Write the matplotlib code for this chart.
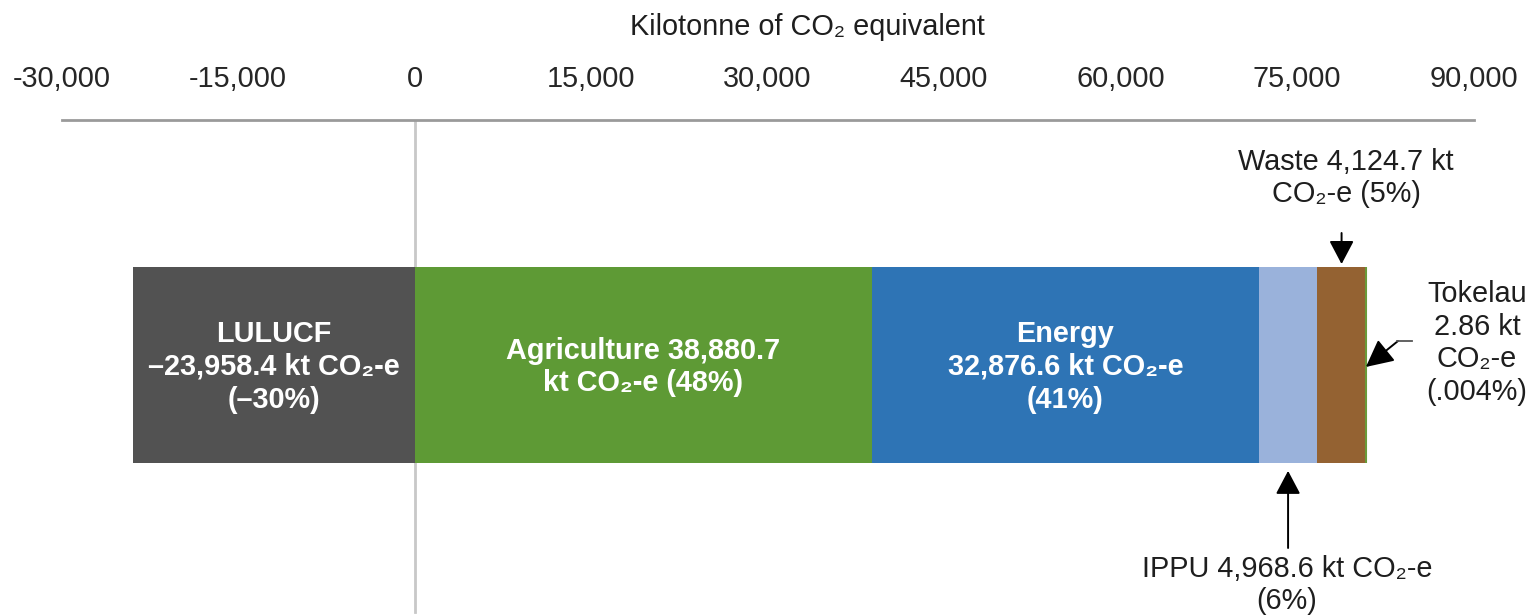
import matplotlib
matplotlib.use("Agg")
import matplotlib.pyplot as plt
from matplotlib.ticker import FuncFormatter

# sectors stacked left to right, kt CO2-e
sectors = ["LULUCF", "Agriculture", "Energy", "IPPU", "Waste", "Tokelau"]
values = [-23958.4, 38880.7, 32876.6, 4968.6, 4124.7, 2.86]
colors = ["#525252", "#5e9a35", "#2e74b5", "#9ab2db", "#946232", "#6a9a3a"]
ticks = [-30000, -15000, 0, 15000, 30000, 45000, 60000, 75000, 90000]

inside_labels = {
    "LULUCF": "LULUCF\n\u201323,958.4 kt CO\u2082-e\n(\u201330%)",
    "Agriculture": "Agriculture 38,880.7\nkt CO\u2082-e (48%)",
    "Energy": "Energy\n32,876.6 kt CO\u2082-e\n(41%)",
}
waste_label = "Waste 4,124.7 kt\nCO\u2082-e (5%)"
ippu_label = "IPPU 4,968.6 kt CO\u2082-e\n(6%)"
tokelau_label = "Tokelau\n2.86 kt\nCO\u2082-e\n(.004%)"

W, H = 1531, 615
FONT = ["Liberation Sans", "DejaVu Sans"]
FS = 20.8
LS = 1.22
TXT = "#1e1e1e"

plt.rcParams["font.family"] = FONT


def px(x, y):
    # top-left pixel -> figure fraction
    return (x / W, 1 - y / H)


def fy(y):
    return 1 - y / H


fig = plt.figure(figsize=(W / 100, H / 100), dpi=100)
ax_top = 119.5
left, right = 61.5, 1473.5
ax = fig.add_axes([left / W, 0, (right - left) / W, 1 - ax_top / H])

# bar geometry in pixels -> y limits
bar_c, bar_h = 365, 196
ax.set_ylim(-(H - bar_c) / bar_h, (bar_c - ax_top) / bar_h)
ax.set_xlim(ticks[0], ticks[-1])

# stacked segments
starts = []
pos = 0.0
for name, v, c in zip(sectors, values, colors):
    if v < 0:
        start = 0.0
    else:
        start = pos
        pos += v
    starts.append(start)
    if name == "Tokelau":
        ax.barh(0, v, left=start, height=1, color=c, edgecolor=c, linewidth=1.5, zorder=3)
    else:
        ax.barh(0, v, left=start, height=1, color=c, edgecolor="none", zorder=2)

seg = {n: (s, v) for n, s, v in zip(sectors, starts, values)}

for name, label in inside_labels.items():
    s, v = seg[name]
    ax.text(s + v / 2, -0.01, label, ha="center", va="center", color="white",
            fontsize=FS, fontweight="bold", linespacing=LS, zorder=4)

# zero line
ax.axvline(0, ymin=3 / (H - ax_top), ymax=1, color="#c8c8c8", lw=2, zorder=1)

# axis on top
for sp in ["bottom", "left", "right"]:
    ax.spines[sp].set_visible(False)
ax.spines["top"].set_color("#9a9a9a")
ax.spines["top"].set_linewidth(2)
ax.xaxis.tick_top()
ax.set_xticks(ticks)
ax.xaxis.set_major_formatter(FuncFormatter(lambda v, p: f"{int(v):,}"))
ax.tick_params(axis="x", length=0, pad=19, labelsize=FS, labelcolor="#262626")
ax.set_yticks([])

fig.text(*px(807, 27), "Kilotonne of CO\u2082 equivalent", ha="center", va="center",
         fontsize=FS, color=TXT)

arrow = dict(arrowstyle="-|>,head_length=0.36,head_width=0.19", color="black", lw=1.4,
             mutation_scale=40, shrinkA=0, shrinkB=0)
mixed = ("data", "figure fraction")

# Waste
s, v = seg["Waste"]
wx = s + v / 2
ax.annotate("", xy=(wx, 0.515), xytext=(wx, fy(233)), textcoords=mixed, arrowprops=arrow)
fig.text(*px(1346, 178), waste_label, ha="center", va="center", fontsize=FS,
         color=TXT, linespacing=LS)

# IPPU
s, v = seg["IPPU"]
ix = s + v / 2
ax.annotate("", xy=(ix, -0.54), xytext=(ix, fy(548)), textcoords=mixed, arrowprops=arrow)
fig.text(*px(1287, 585), ippu_label, ha="center", va="center", fontsize=FS,
         color=TXT, linespacing=LS)

# Tokelau, bent leader
s, v = seg["Tokelau"]
ax.annotate("", xy=(s + v, -0.01), xytext=px(1398, 341), textcoords="figure fraction",
            arrowprops=dict(arrow, arrowstyle="-|>,head_length=0.42,head_width=0.21"))
fig.add_artist(plt.Line2D([1397 / W, 1412 / W], [fy(341), fy(341)],
                          color="#555555", lw=1.3))
fig.text(*px(1477, 343), tokelau_label, ha="center", va="center", fontsize=FS,
         color=TXT, linespacing=LS)

fig.savefig("out.png", dpi=100)
